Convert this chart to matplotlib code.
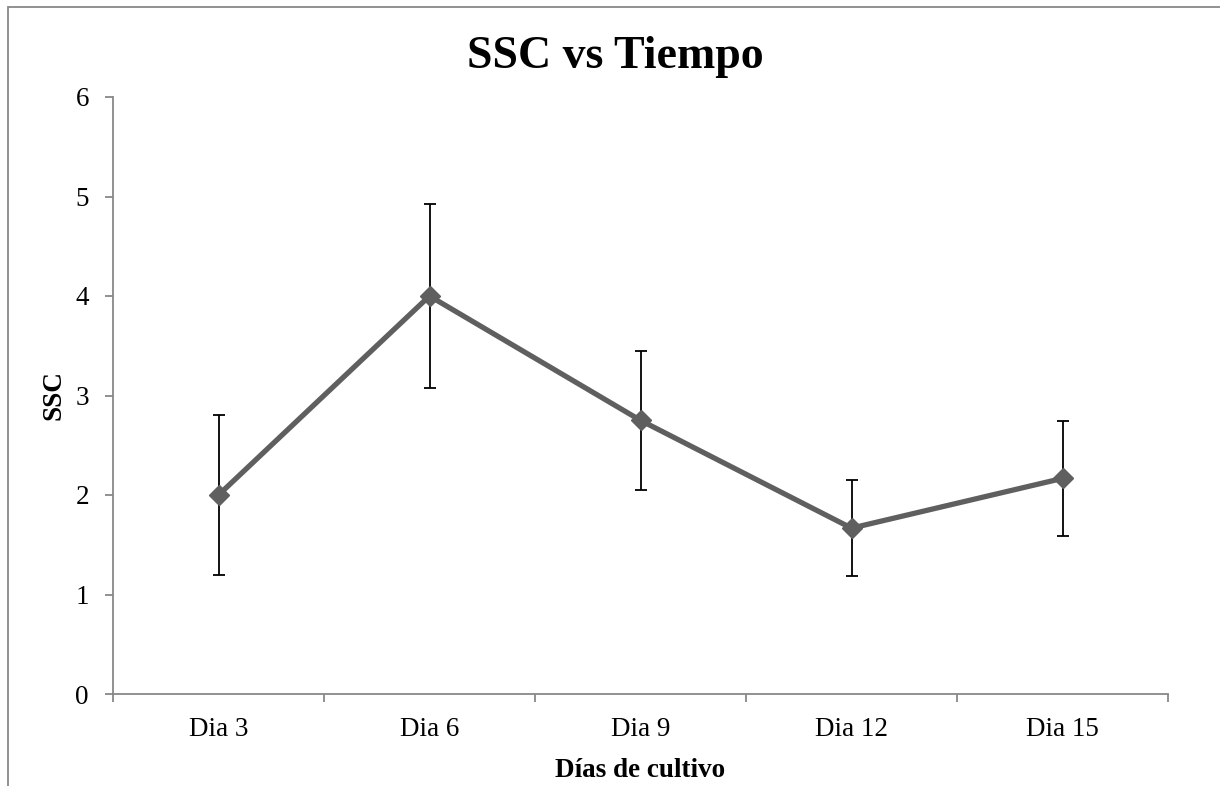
import matplotlib
matplotlib.use("Agg")
import matplotlib.pyplot as plt
from matplotlib.patches import Rectangle
import numpy as np

categories = ["Dia 3", "Dia 6", "Dia 9", "Dia 12", "Dia 15"]
ssc_values = [2.0, 4.0, 2.75, 1.667, 2.167]
ssc_errors = [0.80, 0.925, 0.70, 0.48, 0.575]
y_ticks = [0, 1, 2, 3, 4, 5, 6]

title_text = "SSC vs Tiempo"
x_label = "Días de cultivo"
y_label = "SSC"

plt.rcParams['font.family'] = ['Liberation Serif', 'DejaVu Serif']

W, H = 1220, 786
fig = plt.figure(figsize=(W / 100, H / 100), dpi=100)
fig.patch.set_facecolor("white")

# outer chart border (gray), extending past right and bottom edges
fig.add_artist(Rectangle((8 / W, -0.1), 1.2, 1.1 - 7 / H, transform=fig.transFigure,
                         fill=False, edgecolor="#888888", linewidth=1.3, clip_on=False))

ax = fig.add_axes([113 / W, 1 - 694 / H, (1168 - 113) / W, (694 - 97) / H])

x = np.arange(len(categories))
ax.errorbar(x, ssc_values, yerr=ssc_errors, fmt="none", ecolor="black",
            elinewidth=1.3, capsize=4.3, capthick=1.3, zorder=2)
ax.plot(x, ssc_values, color="#5f5f5f", linewidth=3.8, marker="D",
        markersize=10, markerfacecolor="#5f5f5f", markeredgecolor="#5f5f5f", zorder=3)

ax.set_xlim(-0.5, len(categories) - 0.5)
ax.set_ylim(0, 6)
ax.set_yticks(y_ticks)
ax.set_yticklabels([str(t) for t in y_ticks])
ax.set_xticks(x)
ax.set_xticklabels(categories)
ax.set_xticks(np.arange(len(categories) + 1) - 0.5, minor=True)

for s in ["top", "right"]:
    ax.spines[s].set_visible(False)
for s in ["left", "bottom"]:
    ax.spines[s].set_color("#888888")
    ax.spines[s].set_linewidth(1.3)

ax.tick_params(axis="y", which="major", length=5.8, width=1.3, color="#888888",
               direction="out", pad=11.5, labelsize=19.5)
ax.tick_params(axis="x", which="major", length=0, pad=16.5, labelsize=19.5)
ax.tick_params(axis="x", which="minor", length=5.8, width=1.3, color="#888888",
               direction="out")

ax.set_xlabel(x_label, fontsize=19.5, fontweight="bold")
ax.xaxis.set_label_coords(0.5, -(758 - 694) / (694 - 97))
ax.xaxis.label.set_verticalalignment("top")
ax.set_ylabel(y_label, fontsize=19.5, fontweight="bold")
ax.yaxis.set_label_coords(-(113 - 66) / (1168 - 113), 0.5)

fig.text(615 / W, 1 - 57 / H, title_text, ha="center", va="center",
         fontsize=33, fontweight="bold")

fig.savefig("out.png", dpi=100, facecolor="white")
